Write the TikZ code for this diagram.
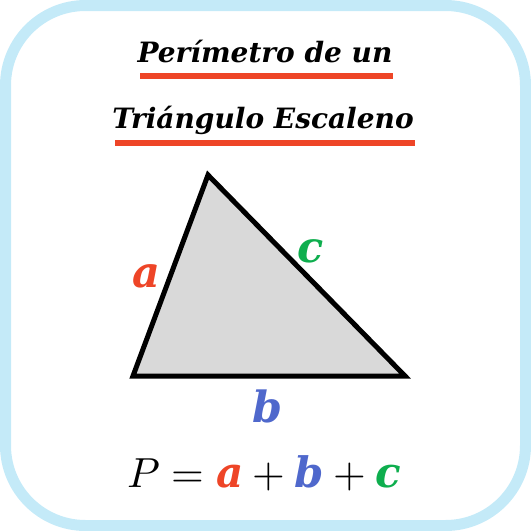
\documentclass[tikz,border=0pt]{standalone}
\usepackage{amsmath}
\usepackage{fontspec}
\usepackage{unicode-math}
\setmainfont{DejaVu Serif}
\setmathfont{Latin Modern Math}
\usetikzlibrary{calc}
\definecolor{frameblue}{HTML}{C4EAF8}
\definecolor{ared}{HTML}{EE4527}
\definecolor{bblue}{HTML}{4F68CC}
\definecolor{cgreen}{HTML}{0EAE4E}
\definecolor{trifill}{HTML}{D9D9D9}
\newcommand{\ladoletra}[2]{\textcolor{#1}{\text{\bfseries\itshape #2}}}
\tikzset{
  titletext/.style={anchor=base, font=\fontsize{28}{28}\selectfont\bfseries\itshape},
  sidelabel/.style={anchor=base, font=\fontsize{43}{43}\selectfont\bfseries\itshape},
  underline/.style={ared, line width=6pt}
}
\begin{document}
\begin{tikzpicture}[x=1pt, y=-1pt]
    \useasboundingbox (0,0) rectangle (531,531);
    %MARCO
    \draw[frameblue, line width=11pt, rounded corners=80pt] (5.5,5.5) rectangle (525.5,525.5);
    %TITULO
    \node[titletext] (tituloA) at (265,62) {Perímetro de un};
    \node[titletext] (tituloB) at (263,128) {Triángulo Escaleno};
    \draw[underline] (140,76) -- (393,76);
    \draw[underline] (115,142.5) -- (415,142.5);
    %TRIANGULO
    \coordinate (A) at (208,175);
    \coordinate (B) at (133,376);
    \coordinate (C) at (405,376);
    \draw[line width=5pt, fill=trifill] (A) -- (B) -- (C) -- cycle;
    %LADOS
    \node[sidelabel, ared] (ladoa) at (146,287) {a};
    \node[sidelabel, cgreen] (ladoc) at (311,262) {c};
    \node[sidelabel, bblue] (ladob) at (268,422) {b};
    %FORMULA
    \node[anchor=base, font=\fontsize{42}{42}\selectfont] (formula) at (264,487)
        {$P = \ladoletra{ared}{a} + \ladoletra{bblue}{b} + \ladoletra{cgreen}{c}$};
\end{tikzpicture}
\end{document}
